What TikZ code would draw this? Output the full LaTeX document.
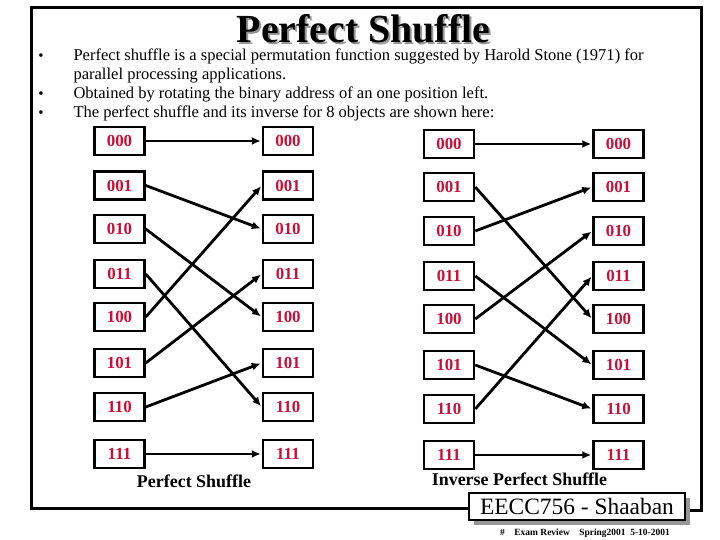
\documentclass[tikz,border=0pt]{standalone}
\usepackage{fontspec}
\setmainfont{Liberation Serif}
\usetikzlibrary{arrows.meta,positioning}
\definecolor{addrred}{RGB}{200,16,56}
\definecolor{shadowgray}{RGB}{150,150,150}

\tikzset{
	addr/.style={draw, line width=2.5bp, minimum width=50bp, minimum height=28bp, inner sep=0pt,
		font=\fontsize{17}{17}\selectfont\bfseries, text=addrred},
	link/.style={line width=2.8bp, -{Latex[length=9bp,width=8bp]}, shorten >=1bp},
	caption/.style={font=\fontsize{18}{18}\selectfont\bfseries},
	bullettext/.style={anchor=base west, font=\fontsize{16.6}{16.6}\selectfont},
	bulletdot/.style={anchor=base, font=\fontsize{15}{15}\selectfont}
}

\begin{document}
\begin{tikzpicture}[x=1bp,y=-1bp]
		\useasboundingbox (0,0) rectangle (720,540);

		% frame
		\draw[line width=3bp] (469,508) -- (31,508) -- (31,8) -- (701,8) -- (701,510) -- (690,510);

		% title and bullets
		\node[text=shadowgray, anchor=base, font=\fontsize{40}{40}\selectfont\bfseries] at (365.5,45) {Perfect Shuffle};
		\node[anchor=base, font=\fontsize{40}{40}\selectfont\bfseries] (title) at (363.5,43) {Perfect Shuffle};

		\node[bulletdot] (b1) at (41,61) {\textbullet};
		\node[bulletdot] (b2) at (41,99) {\textbullet};
		\node[bulletdot] (b3) at (41,118) {\textbullet};
		\node[bullettext] (t1) at (70,61) {Perfect shuffle is a special permutation function suggested by Harold Stone (1971) for};
		\node[bullettext] (t2) at (70,80) {parallel processing applications.};
		\node[bullettext] (t3) at (70,99) {Obtained by rotating the binary address of an one position left.};
		\node[bullettext] (t4) at (70,118) {The perfect shuffle and its inverse for 8 objects are shown here:};

		% perfect shuffle
		\node[addr] (a000) at (119.5,141) {000};
		\node[addr] (a001) at (119.5,185.5) {001};
		\node[addr] (a010) at (119.5,229) {010};
		\node[addr] (a011) at (119.5,274) {011};
		\node[addr] (a100) at (119.5,317) {100};
		\node[addr] (a101) at (119.5,363) {101};
		\node[addr] (a110) at (119.5,407) {110};
		\node[addr] (a111) at (119.5,454) {111};

		\node[addr] (b000) at (288,141) {000};
		\node[addr] (b001) at (288,185.5) {001};
		\node[addr] (b010) at (288,229) {010};
		\node[addr] (b011) at (288,274) {011};
		\node[addr] (b100) at (288,317) {100};
		\node[addr] (b101) at (288,363) {101};
		\node[addr] (b110) at (288,407) {110};
		\node[addr] (b111) at (288,454) {111};

		\draw[link] (a000) -- (b000);
		\draw[link] (a001.east) -- (b010.west);
		\draw[link] (a010.east) -- (b100.west);
		\draw[link] (a011.east) -- (b110.west);
		\draw[link] (a100.east) -- (b001.west);
		\draw[link] (a101.east) -- (b011.west);
		\draw[link] (a110.east) -- (b101.west);
		\draw[link] (a111) -- (b111);

		\node[caption] (cap1) at (194,481) {Perfect Shuffle};

		% inverse perfect shuffle
		\node[addr] (c000) at (449,144) {000};
		\node[addr] (c001) at (449,187) {001};
		\node[addr] (c010) at (449,231) {010};
		\node[addr] (c011) at (449,276) {011};
		\node[addr] (c100) at (449,319) {100};
		\node[addr] (c101) at (449,365) {101};
		\node[addr] (c110) at (449,409) {110};
		\node[addr] (c111) at (449,455) {111};

		\node[addr] (d000) at (618.5,144) {000};
		\node[addr] (d001) at (618.5,187) {001};
		\node[addr] (d010) at (618.5,231) {010};
		\node[addr] (d011) at (618.5,276) {011};
		\node[addr] (d100) at (618.5,319) {100};
		\node[addr] (d101) at (618.5,365) {101};
		\node[addr] (d110) at (618.5,409) {110};
		\node[addr] (d111) at (618.5,455) {111};

		\draw[link] (c000) -- (d000);
		\draw[link] (c001.east) -- (d100.west);
		\draw[link] (c010.east) -- (d001.west);
		\draw[link] (c011.east) -- (d101.west);
		\draw[link] (c100.east) -- (d010.west);
		\draw[link] (c101.east) -- (d110.west);
		\draw[link] (c110.east) -- (d011.west);
		\draw[link] (c111) -- (d111);

		\node[caption] (cap2) at (519.5,479) {Inverse Perfect Shuffle};

		% footer
		\fill[shadowgray] (474,498) rectangle (690,525);
		\node[draw, fill=white, line width=1.5bp, minimum width=216bp, minimum height=27bp, inner sep=0pt,
			font=\fontsize{23.5}{23.5}\selectfont] (footer) at (577,506.5) {EECC756 - Shaaban};
		\node[font=\fontsize{9.5}{9.5}\selectfont\bfseries] (note) at (585,533) {\#\quad Exam Review\quad Spring2001\ \ 5-10-2001};
\end{tikzpicture}
\end{document}
